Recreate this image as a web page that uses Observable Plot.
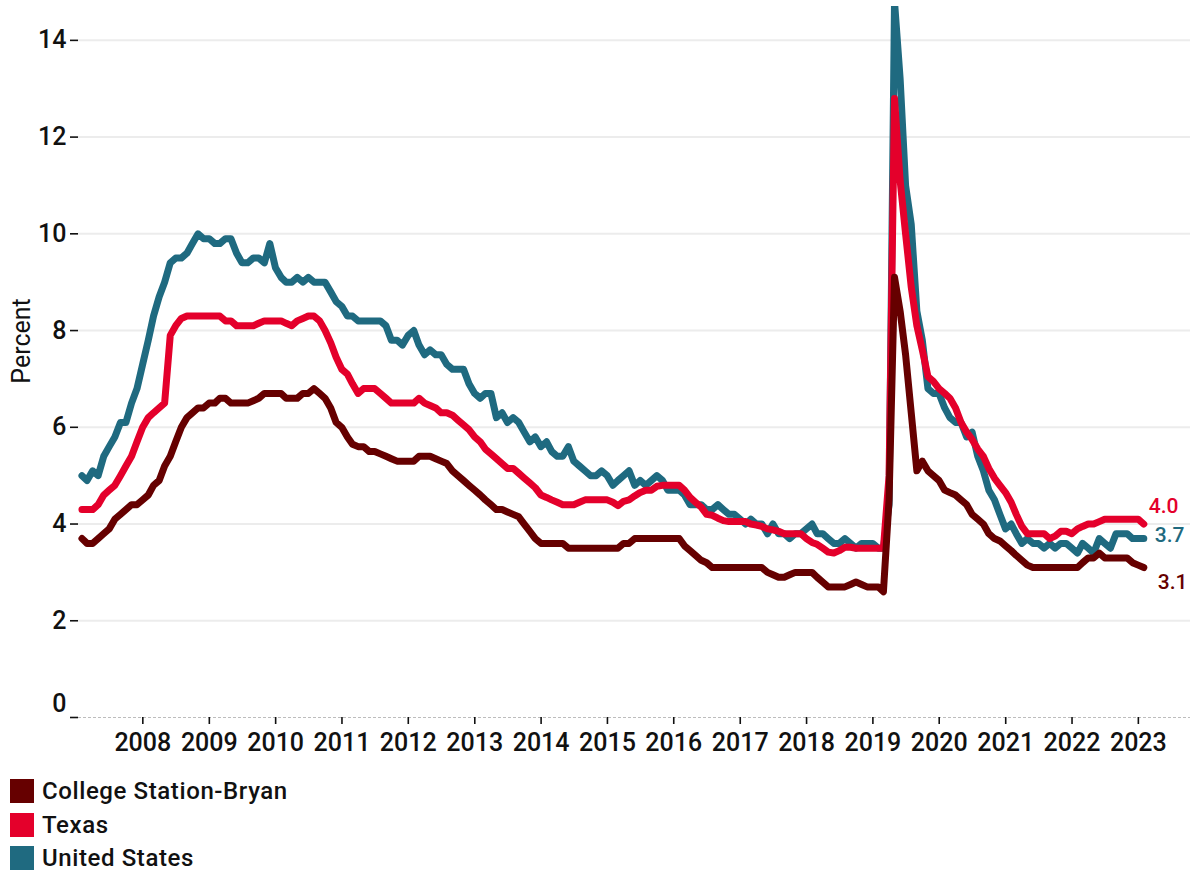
<!DOCTYPE html>
<html>
<head>
<meta charset="utf-8">
<script src="https://cdn.jsdelivr.net/npm/d3@7"></script>
<script src="https://cdn.jsdelivr.net/npm/@observablehq/plot@0.6"></script>
<style>
  html, body { margin: 0; padding: 0; background: #fff; }
  body { width: 1190px; height: 874px; position: relative; font-family: Roboto, sans-serif; color: #111; }
  #chart { position: absolute; left: 0; top: 0; }
  .legend { position: absolute; left: 10px; top: 779px; }
  .row { display: flex; align-items: center; height: 24px; margin-bottom: 9.5px; }
  .sw { width: 24px; height: 24px; margin-right: 8px; }
  .lab { font-size: 24px; font-weight: 500; line-height: 24px; letter-spacing: 0.6px; }
</style>
</head>
<body>
<div id="chart"></div>
<div class="legend" id="legend"></div>
<script>
// Series names and colours
const seriesNames = ["College Station-Bryan", "Texas", "United States"];
const seriesColors = ["#660000", "#e4002b", "#1f6a80"];

// Monthly observations, first month = Jan 2007 on the displayed axis (193 months)
const startYear = 2007;
const monthCount = 193;

const collegeStation = [
  3.7, 3.6, 3.6, 3.7, 3.8, 3.9, 4.1, 4.2, 4.3, 4.4,
  4.4, 4.5, 4.6, 4.8, 4.9, 5.2, 5.4, 5.7, 6.0, 6.2,
  6.3, 6.4, 6.4, 6.5, 6.5, 6.6, 6.6, 6.5, 6.5, 6.5,
  6.5, 6.55, 6.6, 6.7, 6.7, 6.7, 6.7, 6.6, 6.6, 6.6,
  6.7, 6.7, 6.8, 6.7, 6.6, 6.4, 6.1, 6.0, 5.8, 5.65,
  5.6, 5.6, 5.5, 5.5, 5.45, 5.4, 5.35, 5.3, 5.3, 5.3,
  5.3, 5.4, 5.4, 5.4, 5.35, 5.3, 5.25, 5.1, 5.0, 4.9,
  4.8, 4.7, 4.6, 4.5, 4.4, 4.3, 4.3, 4.25, 4.2, 4.15,
  4.0, 3.85, 3.7, 3.6, 3.6, 3.6, 3.6, 3.6, 3.5, 3.5,
  3.5, 3.5, 3.5, 3.5, 3.5, 3.5, 3.5, 3.5, 3.6, 3.6,
  3.7, 3.7, 3.7, 3.7, 3.7, 3.7, 3.7, 3.7, 3.7, 3.55,
  3.45, 3.35, 3.25, 3.2, 3.1, 3.1, 3.1, 3.1, 3.1, 3.1,
  3.1, 3.1, 3.1, 3.1, 3.0, 2.95, 2.9, 2.9, 2.95, 3.0,
  3.0, 3.0, 3.0, 2.9, 2.8, 2.7, 2.7, 2.7, 2.7, 2.75,
  2.8, 2.75, 2.7, 2.7, 2.7, 2.6, 4.5, 9.1, 8.4, 7.5,
  6.3, 5.1, 5.3, 5.1, 5.0, 4.9, 4.7, 4.65, 4.6, 4.5,
  4.4, 4.2, 4.1, 4.0, 3.8, 3.7, 3.65, 3.55, 3.45, 3.35,
  3.25, 3.15, 3.1, 3.1, 3.1, 3.1, 3.1, 3.1, 3.1, 3.1,
  3.1, 3.2, 3.3, 3.3, 3.4, 3.3, 3.3, 3.3, 3.3, 3.3,
  3.2, 3.15, 3.1
];

const texas = [
  4.3, 4.3, 4.3, 4.4, 4.6, 4.7, 4.8, 5.0, 5.2, 5.4,
  5.7, 6.0, 6.2, 6.3, 6.4, 6.5, 7.9, 8.1, 8.25, 8.3,
  8.3, 8.3, 8.3, 8.3, 8.3, 8.3, 8.2, 8.2, 8.1, 8.1,
  8.1, 8.1, 8.15, 8.2, 8.2, 8.2, 8.2, 8.15, 8.1, 8.2,
  8.25, 8.3, 8.3, 8.2, 8.0, 7.75, 7.45, 7.2, 7.1, 6.9,
  6.7, 6.8, 6.8, 6.8, 6.7, 6.6, 6.5, 6.5, 6.5, 6.5,
  6.5, 6.6, 6.5, 6.45, 6.4, 6.3, 6.3, 6.25, 6.15, 6.05,
  5.95, 5.8, 5.7, 5.55, 5.45, 5.35, 5.25, 5.15, 5.15, 5.05,
  4.95, 4.85, 4.75, 4.6, 4.55, 4.5, 4.45, 4.4, 4.4, 4.4,
  4.45, 4.5, 4.5, 4.5, 4.5, 4.5, 4.45, 4.38, 4.47, 4.5,
  4.58, 4.65, 4.7, 4.7, 4.78, 4.8, 4.8, 4.8, 4.8, 4.7,
  4.55, 4.45, 4.35, 4.2, 4.18, 4.12, 4.07, 4.05, 4.05, 4.05,
  4.05, 4.0, 3.98, 3.95, 3.9, 3.88, 3.85, 3.8, 3.8, 3.8,
  3.8, 3.7, 3.62, 3.58, 3.5, 3.42, 3.4, 3.45, 3.52, 3.52,
  3.5, 3.5, 3.5, 3.5, 3.5, 3.5, 5.0, 12.8, 11.1, 10.0,
  8.9, 8.1, 7.6, 7.05, 6.95, 6.8, 6.7, 6.6, 6.4, 6.1,
  5.9, 5.75, 5.55, 5.4, 5.15, 4.95, 4.8, 4.65, 4.45, 4.2,
  3.95, 3.8, 3.8, 3.8, 3.8, 3.7, 3.75, 3.85, 3.85, 3.8,
  3.9, 3.95, 4.0, 4.0, 4.05, 4.1, 4.1, 4.1, 4.1, 4.1,
  4.1, 4.1, 4.0
];

const unitedStates = [
  5.0, 4.9, 5.1, 5.0, 5.4, 5.6, 5.8, 6.1, 6.1, 6.5, 6.8, 7.3,
  7.8, 8.3, 8.7, 9.0, 9.4, 9.5, 9.5, 9.6, 9.8, 10.0, 9.9, 9.9,
  9.8, 9.8, 9.9, 9.9, 9.6, 9.4, 9.4, 9.5, 9.5, 9.4, 9.8, 9.3,
  9.1, 9.0, 9.0, 9.1, 9.0, 9.1, 9.0, 9.0, 9.0, 8.8, 8.6, 8.5,
  8.3, 8.3, 8.2, 8.2, 8.2, 8.2, 8.2, 8.1, 7.8, 7.8, 7.7, 7.9,
  8.0, 7.7, 7.5, 7.6, 7.5, 7.5, 7.3, 7.2, 7.2, 7.2, 6.9, 6.7,
  6.6, 6.7, 6.7, 6.2, 6.3, 6.1, 6.2, 6.1, 5.9, 5.7, 5.8, 5.6,
  5.7, 5.5, 5.4, 5.4, 5.6, 5.3, 5.2, 5.1, 5.0, 5.0, 5.1, 5.0,
  4.8, 4.9, 5.0, 5.1, 4.8, 4.9, 4.8, 4.9, 5.0, 4.9, 4.7, 4.7,
  4.7, 4.6, 4.4, 4.4, 4.4, 4.3, 4.3, 4.4, 4.3, 4.2, 4.2, 4.1,
  4.0, 4.1, 4.0, 4.0, 3.8, 4.0, 3.8, 3.8, 3.7, 3.8, 3.8, 3.9,
  4.0, 3.8, 3.8, 3.7, 3.6, 3.6, 3.7, 3.6, 3.5, 3.6, 3.6, 3.6,
  3.5, 3.5, 4.4, 14.8, 13.2, 11.0, 10.2, 8.4, 7.8, 6.8, 6.7, 6.7,
  6.4, 6.2, 6.1, 6.1, 5.8, 5.9, 5.4, 5.1, 4.7, 4.5, 4.2, 3.9,
  4.0, 3.8, 3.6, 3.7, 3.6, 3.6, 3.5, 3.6, 3.5, 3.6, 3.6, 3.5,
  3.4, 3.6, 3.5, 3.4, 3.7, 3.6, 3.5, 3.8, 3.8, 3.8, 3.7, 3.7,
  3.7
];

// Axis ticks
const yTickValues = [0, 2, 4, 6, 8, 10, 12, 14];
const xTickYears = d3.range(2008, 2024);

// ---- build a long table from the arrays ----
const dates = d3.range(monthCount).map(m => new Date(Date.UTC(startYear, m + 1, 0)));
const valuesBySeries = {
  "College Station-Bryan": collegeStation,
  "Texas": texas,
  "United States": unitedStates
};
const drawOrder = ["United States", "Texas", "College Station-Bryan"];
const rows = drawOrder.flatMap(s => valuesBySeries[s].map((v, i) => ({series: s, date: dates[i], value: v})));
const lastOf = s => rows.filter(r => r.series === s).at(-1);

const endLabel = (s, dx, dy) => Plot.text([lastOf(s)], {
  x: "date", y: "value", text: d => d.value.toFixed(1),
  fill: seriesColors[seriesNames.indexOf(s)], textAnchor: "start",
  dx, dy, fontSize: 21, fontWeight: 500
});

const chart = Plot.plot({
  width: 1190,
  height: 765,
  marginLeft: 78,
  marginRight: 0,
  marginTop: 6,
  marginBottom: 48,
  x: {type: "utc", domain: [new Date(Date.UTC(2007, 0, 12)), new Date(Date.UTC(2023, 9, 15))]},
  y: {domain: [0, 14.7]},
  color: {domain: seriesNames, range: seriesColors},
  style: {fontFamily: "Roboto, sans-serif", fontSize: "25px", fontWeight: 500, color: "#111", background: "#fff", overflow: "visible"},
  marks: [
    Plot.gridY(yTickValues.filter(d => d > 0), {stroke: "#ececec", strokeOpacity: 1, strokeWidth: 2}),
    Plot.ruleY([0], {stroke: "#bdbdbd", strokeDasharray: "3,2", strokeWidth: 1}),
    Plot.axisY({ticks: yTickValues, tickSize: 8, tickPadding: 4, strokeWidth: 1.6, label: null,
      tickFormat: d => d === 0 ? "" : String(d)}),
    Plot.text([0], {y: d => d, text: d => String(d), frameAnchor: "left", textAnchor: "end", dx: -12, dy: -14, fontSize: 25, fontWeight: 500}),
    Plot.axisX({ticks: xTickYears.map(y => new Date(Date.UTC(y, 0, 1))), tickFormat: d3.utcFormat("%Y"),
      tickSize: 7, tickPadding: 9, strokeWidth: 1.6, label: null}),
    Plot.text(["Percent"], {frameAnchor: "left", textAnchor: "middle", rotate: -90, dx: -57, dy: -21, fontSize: 25, fontWeight: 400}),
    Plot.line(rows, {x: "date", y: "value", z: "series", stroke: "series", strokeWidth: 7,
      strokeLinejoin: "round", strokeLinecap: "round", clip: true}),
    endLabel("Texas", 5, -18),
    endLabel("United States", 11, -3),
    endLabel("College Station-Bryan", 14, 15)
  ]
});
document.getElementById("chart").appendChild(chart);

// Legend (HTML, below the SVG)
const legend = document.getElementById("legend");
seriesNames.forEach((name, i) => {
  const row = document.createElement("div");
  row.className = "row";
  const sw = document.createElement("div");
  sw.className = "sw";
  sw.style.background = seriesColors[i];
  const lab = document.createElement("span");
  lab.className = "lab";
  lab.textContent = name;
  row.appendChild(sw);
  row.appendChild(lab);
  legend.appendChild(row);
});
</script>
</body>
</html>
